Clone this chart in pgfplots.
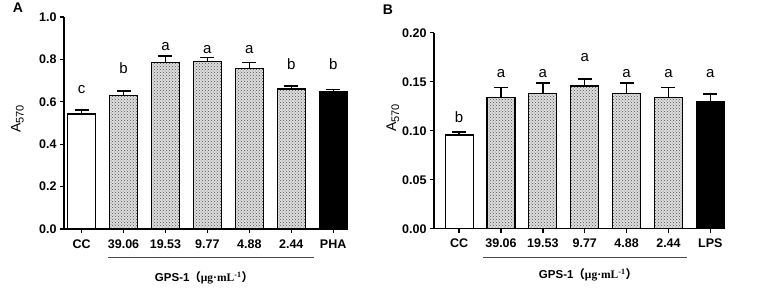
\documentclass[border=0pt]{standalone}
\usepackage{pgfplots}
\pgfplotsset{compat=1.18}
\usetikzlibrary{patterns}
\usepackage{fontspec}
\setmainfont{Liberation Sans}
\newfontfamily\cjk{Noto Sans CJK SC}
\newfontfamily\tnr{Liberation Serif}

\tikzset{lett/.style={font=\fontsize{15}{17}\selectfont}}
\newcommand{\Asub}{A{\fontsize{11}{11}\selectfont\raisebox{-3pt}{570}}}

\pgfplotsset{
  panel/.style={
    scale only axis,
    axis lines=left,
    axis line style={line width=1.5pt,-},
    ybar, bar width=28pt,
    clip=false,
    ymin=0,
    xtick={0,...,6},
    tick align=outside,
    major tick length=4pt,
    every tick/.style={black,line width=1.3pt},
    tick label style={font=\fontsize{12.5}{14}\selectfont\bfseries},
    xticklabel style={yshift=-3pt},
    /pgf/number format/assume math mode=true,
    ylabel style={font=\fontsize{14}{16}\selectfont, anchor=center},
  },
  bars/.style={
    draw=black, line width=1.2pt, bar shift=0pt,
    error bars/y dir=plus, error bars/y explicit,
    error bars/error bar style={line width=1.3pt},
    error bars/error mark options={rotate=90, mark size=7pt, line width=1.3pt},
  },
  dotted bar/.style={bars, fill=gray!25,
    postaction={pattern=crosshatch dots, pattern color=gray!60!black}},
}

\begin{document}
\begin{tikzpicture}
\path[use as bounding box] (0pt,0pt) rectangle (765pt,287pt);

% ---- panel A
\begin{axis}[panel,
  at={(64pt,58pt)}, anchor=south west,
  width=283pt, height=212pt,
  xmin=-0.42, xmax=6.33, ymax=1.0,
  ytick={0,0.2,0.4,0.6,0.8,1.0},
  yticklabel style={/pgf/number format/.cd, fixed, fixed zerofill, precision=1},
  xticklabels={CC,39.06,19.53,9.77,4.88,2.44,PHA},
  ylabel={\Asub},
  ylabel style={at={(axis description cs:-0.165,0.52)}},
]
\addplot[bars, fill=white] coordinates {(0,0.542) +- (0,0.019)};
\addplot[dotted bar] coordinates {
  (1,0.629) +- (0,0.022)
  (2,0.785) +- (0,0.031)
  (3,0.790) +- (0,0.020)
  (4,0.758) +- (0,0.028)
  (5,0.660) +- (0,0.015)
};
\addplot[bars, fill=black] coordinates {(6,0.646) +- (0,0.013)};
\node[lett] at (axis cs:0,0.656) {c};
\node[lett] at (axis cs:1,0.760) {b};
\node[lett] at (axis cs:2,0.862) {a};
\node[lett] at (axis cs:3,0.848) {a};
\node[lett] at (axis cs:4,0.848) {a};
\node[lett] at (axis cs:5,0.780) {b};
\node[lett] at (axis cs:6,0.780) {b};
\end{axis}

% ---- panel B
\begin{axis}[panel,
  at={(434pt,58.3pt)}, anchor=south west,
  width=291pt, height=196pt,
  xmin=-0.6, xmax=6.35, ymax=0.2,
  ytick={0,0.05,0.10,0.15,0.20},
  yticklabel style={/pgf/number format/.cd, fixed, fixed zerofill, precision=2},
  xticklabels={CC,39.06,19.53,9.77,4.88,2.44,LPS},
  ylabel={\Asub},
  ylabel style={at={(axis description cs:-0.141,0.565)}},
]
\addplot[bars, fill=white] coordinates {(0,0.0956) +- (0,0.0030)};
\addplot[dotted bar] coordinates {
  (1,0.1337) +- (0,0.0105)
  (2,0.1378) +- (0,0.0108)
  (3,0.1456) +- (0,0.0071)
  (4,0.1378) +- (0,0.0108)
  (5,0.1337) +- (0,0.0105)
};
\addplot[bars, fill=black] coordinates {(6,0.1296) +- (0,0.0078)};
\node[lett] at (axis cs:0,0.1143) {b};
\node[lett] at (axis cs:1,0.1586) {a};
\node[lett] at (axis cs:2,0.1586) {a};
\node[lett] at (axis cs:3,0.1749) {a};
\node[lett] at (axis cs:4,0.1586) {a};
\node[lett] at (axis cs:5,0.1586) {a};
\node[lett] at (axis cs:6,0.1586) {a};
\end{axis}

% group bracket lines and captions
\draw[line width=1pt, black!70] (108pt,30pt) -- (314pt,30pt);
\draw[line width=1pt, black!70] (483pt,30pt) -- (687pt,30pt);
\node[font=\fontsize{11.5}{13}\selectfont\bfseries] at (204pt,9pt)
  {GPS-1{\cjk （}{\tnr μg·mL\textsuperscript{-1}}{\cjk ）}};
\node[font=\fontsize{11.5}{13}\selectfont\bfseries] at (588pt,12pt)
  {GPS-1{\cjk （}{\tnr μg·mL\textsuperscript{-1}}{\cjk ）}};

\node[font=\fontsize{14}{16}\selectfont\bfseries] at (18pt,279pt) {A};
\node[font=\fontsize{14}{16}\selectfont\bfseries] at (388pt,277pt) {B};
\end{tikzpicture}
\end{document}
